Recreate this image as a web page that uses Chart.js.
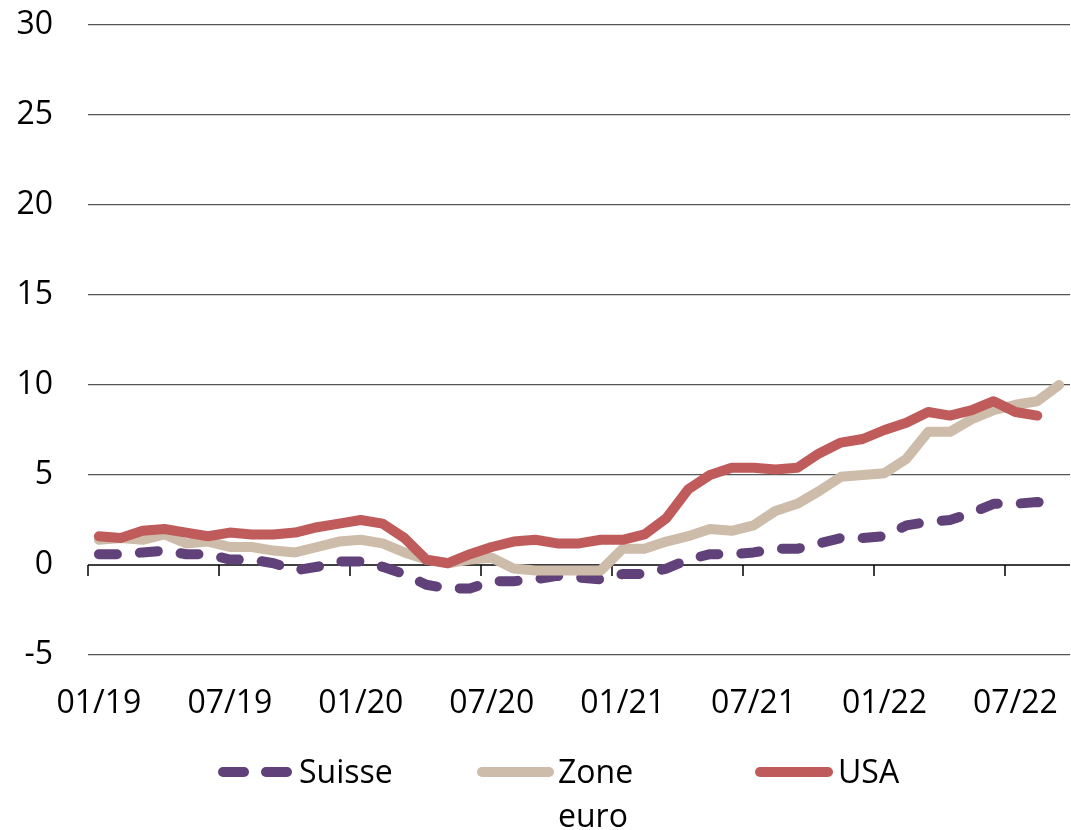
<!DOCTYPE html>
<html>
<head>
<meta charset="utf-8">
<script src="https://cdn.jsdelivr.net/npm/chart.js"></script>
<style>
    body { margin: 0; background: #fff; font-family: 'Open Sans', sans-serif; }
    #wrap { position: relative; width: 1071px; height: 830px; }
    .legend-item { position: absolute; top: 749px; font-size: 32px; line-height: 44px; color: #000; }
    .swatch { position: absolute; height: 10px; border-radius: 5px; top: 767px; }
</style>
</head>
<body>
<div id="wrap">
    <canvas id="inflationChart"></canvas>
    <!-- légende faite à la main (Zone euro sur deux lignes) -->
    <div class="swatch" style="left:218px;width:31px;background:#604179"></div>
    <div class="swatch" style="left:261px;width:31px;background:#604179"></div>
    <div class="legend-item" style="left:299px">Suisse</div>
    <div class="swatch" style="left:477px;width:77px;background:#cdbcaa"></div>
    <div class="legend-item" style="left:558px">Zone<br>euro</div>
    <div class="swatch" style="left:755px;width:78px;background:#c05b5b"></div>
    <div class="legend-item" style="left:838px">USA</div>
</div>
<script>
// mois 01/19 -> 09/22
const months = [
    '01/19', '02/19', '03/19', '04/19', '05/19', '06/19', '07/19', '08/19', '09/19', '10/19', '11/19', '12/19',
    '01/20', '02/20', '03/20', '04/20', '05/20', '06/20', '07/20', '08/20', '09/20', '10/20', '11/20', '12/20',
    '01/21', '02/21', '03/21', '04/21', '05/21', '06/21', '07/21', '08/21', '09/21', '10/21', '11/21', '12/21',
    '01/22', '02/22', '03/22', '04/22', '05/22', '06/22', '07/22', '08/22', '09/22'
];

const suisse = [
    0.6, 0.6, 0.7, 0.8, 0.6, 0.6, 0.3, 0.3, 0.1, -0.3, -0.1, 0.2,
    0.2, -0.1, -0.5, -1.1, -1.3, -1.3, -0.9, -0.9, -0.8, -0.6, -0.7, -0.8,
    -0.5, -0.5, -0.2, 0.3, 0.6, 0.6, 0.7, 0.9, 0.9, 1.2, 1.5, 1.5,
    1.6, 2.2, 2.4, 2.5, 2.9, 3.4, 3.4, 3.5, 3.3
];

const zoneEuro = [
    1.4, 1.5, 1.4, 1.7, 1.2, 1.3, 1.0, 1.0, 0.8, 0.7, 1.0, 1.3,
    1.4, 1.2, 0.7, 0.3, 0.1, 0.3, 0.4, -0.2, -0.3, -0.3, -0.3, -0.3,
    0.9, 0.9, 1.3, 1.6, 2.0, 1.9, 2.2, 3.0, 3.4, 4.1, 4.9, 5.0,
    5.1, 5.9, 7.4, 7.4, 8.1, 8.6, 8.9, 9.1, 10.0
];

const usa = [
    1.6, 1.5, 1.9, 2.0, 1.8, 1.6, 1.8, 1.7, 1.7, 1.8, 2.1, 2.3,
    2.5, 2.3, 1.5, 0.3, 0.1, 0.6, 1.0, 1.3, 1.4, 1.2, 1.2, 1.4,
    1.4, 1.7, 2.6, 4.2, 5.0, 5.4, 5.4, 5.3, 5.4, 6.2, 6.8, 7.0,
    7.5, 7.9, 8.5, 8.3, 8.6, 9.1, 8.5, 8.3, null
];

const yMin = -5;
const yMax = 30;
const yStep = 5;
const labelEvery = 6;

const FONT = { family: "'Open Sans', sans-serif", size: 32 };

// axe des x à zéro + petits traits tous les 6 mois
const zeroAxisPlugin = {
    id: 'zeroAxis',
    beforeDatasetsDraw(chart) {
        const x = chart.scales.x;
        const y = chart.scales.y;
        const ctx = chart.ctx;
        const y0 = y.getPixelForValue(0);
        const half = (x.getPixelForValue(1) - x.getPixelForValue(0)) / 2;
        ctx.save();
        ctx.strokeStyle = '#000';
        ctx.lineWidth = 1.5;
        ctx.beginPath();
        ctx.moveTo(chart.chartArea.left, y0);
        ctx.lineTo(chart.chartArea.right, y0);
        for (let i = 0; i < months.length; i += labelEvery) {
            const px = Math.round(x.getPixelForValue(i) - half);
            ctx.moveTo(px, y0);
            ctx.lineTo(px, y0 + 11);
        }
        ctx.stroke();
        ctx.restore();
    }
};

new Chart(document.getElementById('inflationChart').getContext('2d'), {
    type: 'line',
    data: {
        labels: months,
        datasets: [
            {
                label: 'Suisse',
                data: suisse,
                borderColor: '#604179',
                borderWidth: 10,
                borderDash: [18, 23],
                borderCapStyle: 'round',
                borderJoinStyle: 'round',
                order: 2
            },
            {
                label: 'Zone euro',
                data: zoneEuro,
                borderColor: '#cdbcaa',
                borderWidth: 10,
                borderCapStyle: 'round',
                borderJoinStyle: 'round',
                order: 1
            },
            {
                label: 'USA',
                data: usa,
                borderColor: '#c05b5b',
                borderWidth: 10,
                borderCapStyle: 'round',
                borderJoinStyle: 'round',
                order: 0
            }
        ]
    },
    options: {
        responsive: true,
        maintainAspectRatio: false,
        animation: false,
        elements: { point: { radius: 0 }, line: { tension: 0 } },
        layout: { padding: { top: 25, right: 1, left: 0, bottom: 0 } },
        plugins: {
            legend: { display: false },
            tooltip: { enabled: false }
        },
        scales: {
            x: {
                type: 'category',
                offset: true,
                border: { display: false },
                grid: { display: false },
                afterFit: s => {
                    s.height = 175;
                    s.paddingLeft = 0;
                    s.paddingRight = 0;
                },
                ticks: {
                    autoSkip: false,
                    maxRotation: 0,
                    padding: 22,
                    color: '#000',
                    font: FONT,
                    callback: (v, i) => (i % labelEvery === 0 ? months[i] : '')
                }
            },
            y: {
                min: yMin,
                max: yMax,
                border: { display: false },
                afterFit: s => {
                    s.width = 88;
                    s.paddingTop = 0;
                    s.paddingBottom = 0;
                },
                grid: {
                    drawTicks: false,
                    color: c => (c.tick.value === 0 ? 'rgba(0,0,0,0)' : '#555'),
                    lineWidth: 1.3
                },
                ticks: {
                    stepSize: yStep,
                    padding: 35,
                    color: '#000',
                    font: FONT
                }
            }
        }
    },
    plugins: [zeroAxisPlugin]
});
</script>
</body>
</html>
